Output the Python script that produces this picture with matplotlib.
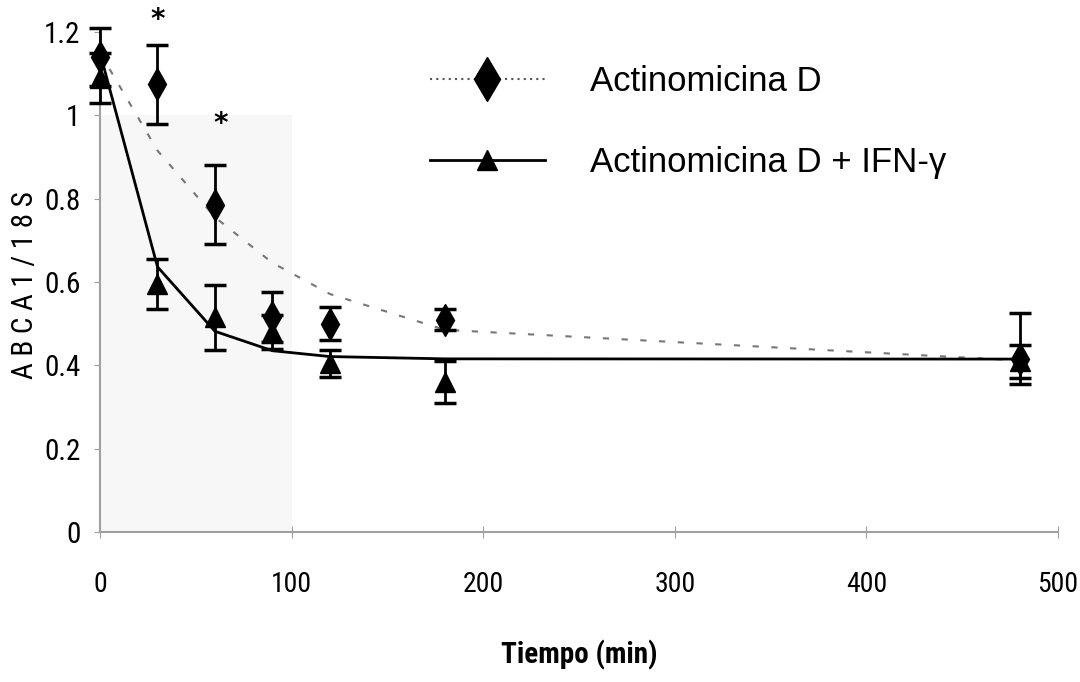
import numpy as np
import matplotlib.pyplot as plt
from matplotlib.lines import Line2D
from matplotlib.patches import Rectangle

# tiempo (min)
tiempo = [0, 30, 60, 90, 120, 180, 480]

# Actinomicina D
act_y = [1.14, 1.075, 0.785, 0.515, 0.50, 0.51, 0.415]
act_err_lo = [0.07, 0.095, 0.095, 0.06, 0.04, 0.025, 0.06]
act_err_hi = [0.07, 0.095, 0.095, 0.06, 0.04, 0.025, 0.11]

# Actinomicina D + IFN-gamma
ifn_y = [1.09, 0.595, 0.515, 0.48, 0.405, 0.36, 0.41]
ifn_err = [0.06, 0.06, 0.078, 0.04, 0.033, 0.05, 0.04]

# one-phase decay fits: plateau, span, rate (1/min)
act_fit = (0.41, 0.74, 0.0127)
ifn_fit = (0.415, 0.735, 0.040)

# asterisks (x, y)
stars_x = [30, 63]
stars_y = [1.23, 0.98]

narrow = ["Roboto Condensed", "DejaVu Sans"]
grey = "#a0a0a0"

fig = plt.figure(figsize=(10.8, 6.82), dpi=100)
ax = fig.add_axes([100 / 1080, 150 / 682, 958 / 1080, 500 / 682])

ax.add_patch(Rectangle((0, 0), 100, 1.0, facecolor="#f7f7f7", edgecolor="none", zorder=0))

# fitted curves drawn through the sampled times
xs = np.array(tiempo, dtype=float)
p, s, k = act_fit
ax.plot(xs, p + s * np.exp(-k * xs), color="#777777", lw=1.5, ls=(0, (3, 6)), zorder=2)
p, s, k = ifn_fit
ax.plot(xs, p + s * np.exp(-k * xs), color="black", lw=2, zorder=3)

ax.errorbar(tiempo, act_y, yerr=[act_err_lo, act_err_hi], fmt="d", color="black",
            ms=16, capsize=8, capthick=2.5, elinewidth=2, clip_on=False, zorder=4)
ax.errorbar(tiempo, ifn_y, yerr=ifn_err, fmt="^", color="black",
            ms=14, capsize=8, capthick=2.5, elinewidth=2, clip_on=False, zorder=4)

for x, y in zip(stars_x, stars_y):
    ax.text(x, y, "*", ha="center", va="center", fontsize=20, fontweight="bold")

ax.set_xlim(0, 500)
ax.set_ylim(0, 1.2)
ax.set_xticks([0, 100, 200, 300, 400, 500])
ax.set_yticks([0, 0.2, 0.4, 0.6, 0.8, 1.0, 1.2])
ax.set_yticklabels(["0", "0.2", "0.4", "0.6", "0.8", "1", "1.2"])
for sp in ["top", "right"]:
    ax.spines[sp].set_visible(False)
for sp in ["left", "bottom"]:
    ax.spines[sp].set_color(grey)
    ax.spines[sp].set_linewidth(1.5)
ax.tick_params(axis="x", direction="inout", length=8, color=grey, pad=24)
ax.tick_params(axis="y", direction="out", length=4, color=grey, pad=10)
for lab in ax.get_xticklabels():
    lab.set_family(narrow)
    lab.set_fontsize(20)
for lab in ax.get_yticklabels():
    lab.set_family(narrow)
    lab.set_fontsize(21)

ax.set_xlabel("Tiempo (min)", family=narrow, fontsize=21, fontweight="bold", labelpad=30)
ax.set_ylabel("A B C A 1 / 1 8 S", family=narrow, fontsize=21)
ax.yaxis.set_label_coords(-61 / 958, 0.494)

handles = [
    Line2D([], [], color="#555555", lw=1.5, ls=(0, (1, 2)), marker="d", ms=22, mfc="black", mec="black"),
    Line2D([], [], color="black", lw=2, marker="^", ms=15, mfc="black", mec="black"),
]
ax.legend(handles, ["Actinomicina D", "Actinomicina D + IFN-\u03b3"], loc="upper left",
          bbox_to_anchor=(430 / 1080, 1 - 65 / 682), bbox_transform=fig.transFigure,
          frameon=False, prop={"family": "Liberation Sans", "size": 25},
          handlelength=3.3, handletextpad=1.3, labelspacing=1.39, borderpad=0, borderaxespad=0)

fig.savefig("out.png", dpi=100)
